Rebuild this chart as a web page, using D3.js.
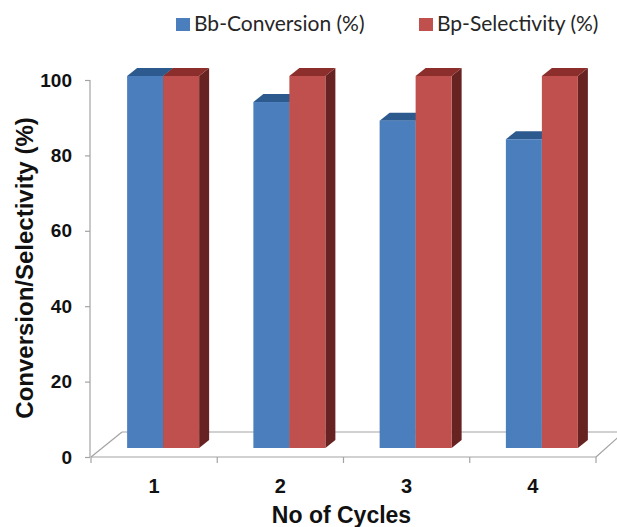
<!DOCTYPE html>
<html>
<head>
<meta charset="utf-8">
<script src="https://cdn.jsdelivr.net/npm/d3@7"></script>
<style>
  html, body { margin: 0; padding: 0; background: #fff; }
  svg { display: block; }
</style>
</head>
<body>
<svg id="chart" width="617" height="527"></svg>
<script>
// Catalyst recycling: conversion and selectivity per cycle
const cycles = ["1", "2", "3", "4"];
const conversion = [100, 93, 88, 83];
const selectivity = [100, 100, 100, 100];
const seriesNames = ["Bb-Conversion (%)", "Bp-Selectivity (%)"];
const yTicks = [0, 20, 40, 60, 80, 100];

const svg = d3.select("#chart");
const W = 617, H = 527;
svg.append("rect").attr("width", W).attr("height", H).attr("fill", "#fff");

// Front edge of the floor and the value axis
const x0 = 91, x1 = 596, yBase = 457, yTop = 80;
const x = d3.scaleBand().domain(cycles).range([x0, x1]);
const y = d3.scaleLinear().domain([0, 100]).range([yBase, yTop]);

// Depth of the floor, offset of the bar fronts, depth of each bar
const floorD = { dx: 31, dy: -25 };
const front = { dx: 9, dy: -9 };
const barD = { dx: 10, dy: -8 };
// Bars sit a little back in the box, so their vertical scale is slightly shorter
const yBar = d3.scaleLinear().domain([0, 100]).range([yBase + front.dy, 76]);

const barW = 36;
const inner = d3.scaleBand().domain([0, 1]).range([0, barW * 2]);

const colors = [
  { front: "#4A7EBD", top: "#2D5A8E", side: "#284F7C" },
  { front: "#C0504D", top: "#8C2F2C", side: "#662321" }
];
const axisColor = "#A3A3A3";
const font = "'Liberation Sans', Arial, sans-serif";

// Floor outline
const floor = svg.append("g").attr("fill", "none").attr("stroke", axisColor).attr("stroke-width", 1.2);
floor.append("line").attr("x1", x0).attr("y1", yBase).attr("x2", x0 + floorD.dx).attr("y2", yBase + floorD.dy);
floor.append("line").attr("x1", x0 + floorD.dx).attr("y1", yBase + floorD.dy).attr("x2", x1 + floorD.dx).attr("y2", yBase + floorD.dy);
floor.append("line").attr("x1", x1).attr("y1", yBase).attr("x2", x1 + floorD.dx - 3).attr("y2", yBase + floorD.dy);

// Category axis along the front edge
svg.append("line").attr("x1", x0).attr("y1", yBase).attr("x2", x1).attr("y2", yBase)
  .attr("stroke", axisColor).attr("stroke-width", 1.2);
const bounds = cycles.map(c => x(c)).concat([x1]);
svg.append("g").selectAll("line").data(bounds).join("line")
  .attr("x1", d => d).attr("x2", d => d)
  .attr("y1", yBase).attr("y2", yBase + 6)
  .attr("stroke", axisColor).attr("stroke-width", 1.2);
svg.append("g").selectAll("text").data(cycles).join("text")
  .attr("x", d => x(d) + x.bandwidth() / 2)
  .attr("y", 493)
  .attr("text-anchor", "middle")
  .attr("font-family", font).attr("font-weight", "bold").attr("font-size", 20)
  .attr("fill", "#111")
  .text(d => d);

// Value axis
const yAxis = d3.axisLeft(y).tickValues(yTicks).tickSize(5).tickPadding(13).tickFormat(d3.format("d"));
const ya = svg.append("g").attr("transform", `translate(${x0 - 1},0)`).call(yAxis);
ya.select(".domain").attr("stroke", axisColor).attr("stroke-width", 1.2).attr("d", `M0,${yTop}V${yBase}`);
ya.selectAll(".tick line").attr("stroke", axisColor).attr("stroke-width", 1.2);
ya.selectAll(".tick text")
  .attr("font-family", font).attr("font-weight", "bold").attr("font-size", 19)
  .attr("fill", "#111");

// Bars
const data = cycles.map((c, i) => ({ c, vals: [conversion[i], selectivity[i]] }));
const bars = svg.append("g");
data.forEach(d => {
  const gx = x(d.c) + (x.bandwidth() - barW * 2) / 2 + front.dx;
  d.vals.forEach((v, s) => {
    const bx = gx + inner(s);
    const bw = inner.bandwidth();
    const yt = yBar(v), yb = yBar(0);
    const col = colors[s];
    const g = bars.append("g");
    // right side
    g.append("polygon")
      .attr("points", [[bx + bw, yt], [bx + bw + barD.dx, yt + barD.dy], [bx + bw + barD.dx, yb + barD.dy], [bx + bw, yb]].join(" "))
      .attr("fill", col.side);
    // top
    g.append("polygon")
      .attr("points", [[bx, yt], [bx + barD.dx, yt + barD.dy], [bx + bw + barD.dx, yt + barD.dy], [bx + bw, yt]].join(" "))
      .attr("fill", col.top);
    // front
    g.append("rect")
      .attr("x", bx).attr("y", yt).attr("width", bw).attr("height", yb - yt)
      .attr("fill", col.front);
  });
});

// Axis titles
svg.append("text")
  .attr("x", (x0 + x1) / 2 - 2).attr("y", 523)
  .attr("text-anchor", "middle")
  .attr("font-family", font).attr("font-weight", "bold").attr("font-size", 23)
  .attr("fill", "#111")
  .text("No of Cycles");
svg.append("text")
  .attr("transform", "translate(33,268) rotate(-90)")
  .attr("text-anchor", "middle")
  .attr("font-family", font).attr("font-weight", "bold").attr("font-size", 24)
  .attr("fill", "#111")
  .text("Conversion/Selectivity (%)");

// Legend
const legendX = [176, 419];
const legend = svg.append("g");
seriesNames.forEach((name, i) => {
  legend.append("rect")
    .attr("x", legendX[i]).attr("y", 18).attr("width", 14).attr("height", 13)
    .attr("fill", colors[i].front);
  legend.append("text")
    .attr("x", legendX[i] + 18).attr("y", 31)
    .attr("font-family", "Lato, 'Open Sans', sans-serif").attr("font-size", 21)
    .attr("fill", "#262626")
    .text(name);
});
</script>
</body>
</html>
